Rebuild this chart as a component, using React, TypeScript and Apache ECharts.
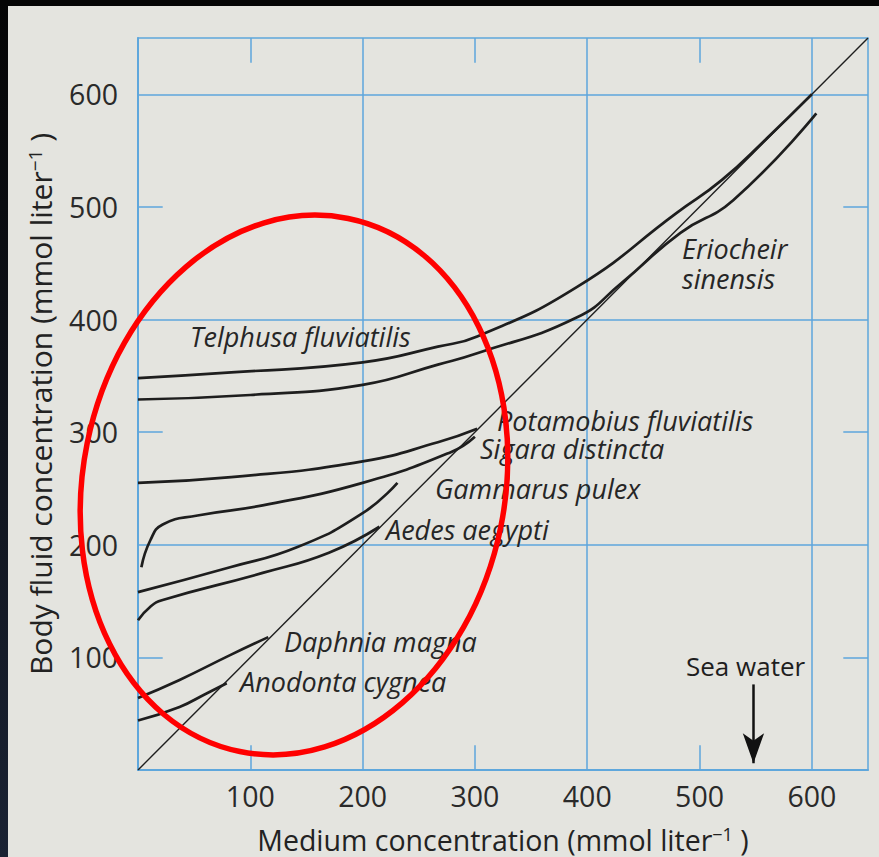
import React, { useEffect, useRef } from "react";
import * as echarts from "echarts";

// Isosmotic line (medium = body fluid)
const isosmotic = [[0, 0], [650, 650]];
// Species curves: [medium concentration, body fluid concentration] (mmol/l)
const telphusa = [[0, 348], [83, 353], [200, 362], [267, 376], [302, 385], [391, 429], [480, 495], [520, 524], [560, 561], [600, 600]];
const eriocheir = [[0, 329], [100, 333], [200, 342], [267, 360], [302, 370], [391, 402], [430, 432], [483, 477], [530, 506], [604, 583]];
const potamobius = [[0, 255], [83, 260], [200, 274], [267, 291], [302, 303]];
const sigara = [[3, 180], [11, 204], [22, 218], [53, 226], [111, 235], [200, 255], [278, 282], [300, 296]];
const gammarus = [[0, 158], [82, 180], [142, 198], [200, 228], [231, 255]];
const aedes = [[0, 133], [11, 145], [22, 151], [111, 175], [170, 193], [215, 216]];
const daphnia = [[0, 64], [37, 80], [82, 102], [116, 118]];
const anodonta = [[0, 44], [37, 56], [61, 68], [79, 77]];

const gridLinesX = [200, 400, 600];
const gridLinesY = [200, 400, 600];
const tickValues = [100, 300, 500];
const seaWaterX = 548;
const seaWaterArrow = [76, 6];

// Label blocks: lines of text with optional left indent (px)
const speciesLabels = [
  { lines: [{ text: "Telphusa fluviatilis", indent: 0 }], x: 190, y: 336, lh: 28 },
  { lines: [{ text: "Eriocheir", indent: 0 }, { text: "sinensis", indent: 0 }], x: 682, y: 263, lh: 30 },
  { lines: [{ text: "Potamobius fluviatilis", indent: 17 }, { text: "Sigara distincta", indent: 0 }], x: 480, y: 434, lh: 28 },
  { lines: [{ text: "Gammarus pulex", indent: 0 }], x: 435, y: 488, lh: 28 },
  { lines: [{ text: "Aedes aegypti", indent: 0 }], x: 386, y: 529, lh: 28 },
  { lines: [{ text: "Daphnia magna", indent: 0 }], x: 284, y: 641, lh: 28 },
  { lines: [{ text: "Anodonta cygnea", indent: 0 }], x: 240, y: 681, lh: 28 },
];

const BLUE = "#5ea6dc";
const INK = "#1e1e1e";
const FONT = "Open Sans";
const TICK = 22;
const MAX = 650;
const LABEL_SIZE = 27;

export default function App() {
  const ref = useRef<HTMLDivElement>(null);
  useEffect(() => {
    const chart = echarts.init(ref.current!, null, { renderer: "svg" });
    const curve = (name: string, data: number[][], width = 2.7) => ({
      name,
      type: "line",
      data,
      smooth: true,
      showSymbol: false,
      symbol: "none",
      z: 5,
      silent: true,
      lineStyle: { color: INK, width },
    });
    const axisCommon = {
      type: "value",
      min: 0,
      max: MAX,
      interval: 100,
      splitLine: { show: false },
      axisLine: { show: true, lineStyle: { color: BLUE, width: 1.5 } },
      axisTick: { show: false },
    };
    const richFor = (size: number) => ({
      n: { fontFamily: FONT, fontSize: size, color: "#222" },
      s: { fontFamily: FONT, fontSize: Math.round(size * 0.62), color: "#222", verticalAlign: "top" },
    });
    const tickSegments: any[] = [];
    tickValues.forEach((v) => {
      tickSegments.push([{ coord: [v, 0] }, { coord: [v, TICK] }]);
      tickSegments.push([{ coord: [v, MAX] }, { coord: [v, MAX - TICK] }]);
      tickSegments.push([{ coord: [0, v] }, { coord: [TICK, v] }]);
      tickSegments.push([{ coord: [MAX, v] }, { coord: [MAX - TICK, v] }]);
    });
    const labelGraphics = speciesLabels.map((l) => {
      const rich: any = {};
      const text = l.lines
        .map((ln, i) => {
          rich["l" + i] = {
            fontFamily: FONT,
            fontStyle: "italic",
            fontSize: LABEL_SIZE,
            lineHeight: l.lh,
            color: "#262626",
            padding: [0, 0, 0, ln.indent],
          };
          return "{l" + i + "|" + ln.text + "}";
        })
        .join("\n");
      return {
        type: "text",
        x: l.x,
        y: l.y,
        z: 50,
        style: { text, rich, fontFamily: FONT, fontStyle: "italic", fontSize: LABEL_SIZE, fill: "#262626", align: "left", verticalAlign: "middle" },
      };
    });
    chart.setOption({
      animation: false,
      backgroundColor: "#e4e4df",
      grid: {
        left: 138, right: 11, top: 38, bottom: 87, show: true, borderColor: BLUE, borderWidth: 1.5,
        outerBoundsMode: "none", containLabel: false,
      },
      xAxis: [
        {
          ...axisCommon,
          position: "bottom",
          name: "{n|Medium concentration (mmol liter}{s|−1}{n| )}",
          nameLocation: "middle",
          nameGap: 55,
          nameTextStyle: { rich: richFor(28.5) },
          axisLabel: { show: true, fontFamily: FONT, fontSize: 28.5, color: "#2a2a2a", margin: 11, showMinLabel: false, showMaxLabel: false },
        },
        { ...axisCommon, position: "top", axisLabel: { show: false } },
      ],
      yAxis: [
        {
          ...axisCommon,
          position: "left",
          name: "{n|Body fluid concentration (mmol liter}{s|−1}{n| )}",
          nameLocation: "middle",
          nameRotate: 90,
          nameGap: 83,
          nameTextStyle: { rich: richFor(30) },
          axisLabel: { show: true, fontFamily: FONT, fontSize: 28.5, color: "#2a2a2a", margin: 20, showMinLabel: false, showMaxLabel: false },
        },
        { ...axisCommon, position: "right", axisLabel: { show: false } },
      ],
      graphic: [
        { type: "rect", shape: { x: 0, y: 0, width: 8, height: 857 }, style: { fill: new echarts.graphic.LinearGradient(0, 0, 0, 1, [{ offset: 0, color: "#050505" }, { offset: 1, color: "#1a2233" }]) }, z: 0 },
        { type: "rect", shape: { x: 0, y: 0, width: 879, height: 6 }, style: { fill: "#050505" }, z: 0 },
        ...labelGraphics,
        {
          type: "text",
          x: 686,
          y: 666,
          z: 50,
          style: { text: "Sea water", fontFamily: FONT, fontSize: 26, lineHeight: 26, fill: "#1e1e1e", align: "left", verticalAlign: "middle" },
        },
        {
          type: "ellipse",
          x: 294,
          y: 485,
          rotation: -0.2,
          shape: { cx: 0, cy: 0, rx: 211, ry: 272 },
          style: { fill: "transparent", stroke: "#ff0000", lineWidth: 5.5 },
          z: 100,
        },
      ],
      series: [
        {
          type: "line",
          data: [],
          z: 1,
          silent: true,
          markLine: {
            silent: true,
            symbol: ["none", "none"],
            label: { show: false },
            lineStyle: { color: BLUE, width: 1.5, type: "solid" },
            data: [...gridLinesX.map((v) => ({ xAxis: v })), ...gridLinesY.map((v) => ({ yAxis: v })), ...tickSegments],
          },
        },
        {
          type: "line",
          data: [],
          z: 6,
          silent: true,
          markLine: {
            silent: true,
            symbol: ["none", "arrow"],
            symbolSize: [16, 30],
            label: { show: false },
            lineStyle: { color: "#111", width: 2.5, type: "solid" },
            data: [[{ coord: [seaWaterX, seaWaterArrow[0]] }, { coord: [seaWaterX, seaWaterArrow[1]] }]],
          },
        },
        curve("isosmotic", isosmotic, 1.4),
        curve("Telphusa fluviatilis", telphusa),
        curve("Eriocheir sinensis", eriocheir),
        curve("Potamobius fluviatilis", potamobius),
        curve("Sigara distincta", sigara),
        curve("Gammarus pulex", gammarus),
        curve("Aedes aegypti", aedes),
        curve("Daphnia magna", daphnia),
        curve("Anodonta cygnea", anodonta),
      ],
    });
    return () => chart.dispose();
  }, []);
  return <div ref={ref} style={{ position: "fixed", left: 0, top: 0, width: 879, height: 857 }} />;
}
